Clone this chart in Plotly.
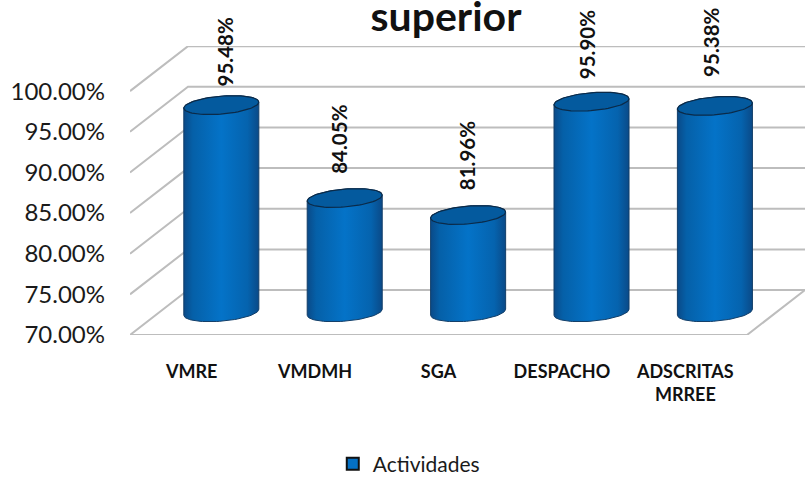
import numpy as np
import plotly.graph_objects as go

categories = ["VMRE", "VMDMH", "SGA", "DESPACHO", "ADSCRITAS<br>MRREE"]
values = [95.48, 84.05, 81.96, 95.90, 95.38]
series_name = "Actividades"
y_ticks = [70, 75, 80, 85, 90, 95, 100]

# 3D-look projection, in axis units
BASE = 70
DEPTH_X, DEPTH_Y = 0.47, 5.53
CYL_X, CYL_Y = 0.24, 2.8
RX, RY, TILT = 0.304, 1.1, 0.37
GRID = "#BDBDBD"
FONT = "Lato"
label_nudge_px = [(4, 1), (-6, 7), (-1, 7), (-5, 5), (-4, 12)]

fig = go.Figure()


def line(xs, ys, color=GRID, width=2):
    fig.add_trace(go.Scatter(x=xs, y=ys, mode="lines", showlegend=False, hoverinfo="skip",
                             line=dict(color=color, width=width)))


# back wall + left wall gridlines
x0, x1 = -0.5, 4.5
for t in y_ticks:
    if t == BASE:
        continue
    line([x0, x0 + DEPTH_X, x1 + DEPTH_X],
         [t, t + DEPTH_Y, t + DEPTH_Y])
# floor
line([x0 + DEPTH_X, x1 + DEPTH_X, x1, x0, x0 + DEPTH_X],
     [BASE + DEPTH_Y, BASE + DEPTH_Y, BASE, BASE, BASE + DEPTH_Y])


def ring(cx, cy, t):
    return cx + RX * np.cos(t), cy + RY * np.sin(t) + TILT * np.cos(t)


for i, v in enumerate(values):
    cx = i + CYL_X
    base = BASE + CYL_Y
    top = v + CYL_Y
    bx, by = ring(cx, base, np.linspace(np.pi, 2 * np.pi, 40))
    tx, ty = ring(cx, top, np.linspace(0, np.pi, 40))
    fig.add_trace(go.Scatter(
        x=np.r_[bx, tx, bx[0]], y=np.r_[by, ty, by[0]], mode="lines", fill="toself",
        line=dict(color="#123E68", width=1), showlegend=False, hoverinfo="skip",
        fillgradient=dict(type="horizontal", colorscale=[
            [0, "#0A4A88"], [0.12, "#0560A8"], [0.5, "#0473C8"],
            [0.85, "#0563AE"], [1, "#0A4A88"]])))
    ex, ey = ring(cx, top, np.linspace(0, 2 * np.pi, 80))
    fig.add_trace(go.Scatter(
        x=ex, y=ey, mode="lines", fill="toself", fillcolor="#045A9E",
        line=dict(color="#0B2A48", width=1.2), showlegend=False, hoverinfo="skip"))
    dx, dy = label_nudge_px[i]
    fig.add_annotation(x=cx, y=top + 1.9, xref="x", yref="y", text=f"<b>{v:.2f}%</b>",
                       textangle=-90, showarrow=False, yanchor="bottom", xanchor="center",
                       xshift=dx, yshift=dy, font=dict(family=FONT, size=20.5, color="#111"))

# legend entry
fig.add_trace(go.Scatter(x=[None], y=[None], mode="markers", name=series_name,
                         marker=dict(symbol="square", size=13, color="#0470C4",
                                     line=dict(color="#111", width=1.5))))

fig.update_layout(
    width=812, height=477, autosize=False,
    margin=dict(l=130, r=7, t=46, b=142, autoexpand=False),
    paper_bgcolor="white", plot_bgcolor="white",
    font=dict(family=FONT, color="#1a1a1a"),
    title=dict(text="<b>superior</b>", x=446 / 812, xanchor="center", xref="container",
               y=1 - 17 / 477, yanchor="middle", font=dict(family=FONT, size=41, color="#111")),
    showlegend=True,
    legend=dict(orientation="h", x=0.413, xanchor="center", y=-0.447, yanchor="middle",
                font=dict(family=FONT, size=21), bgcolor="rgba(0,0,0,0)",
                itemsizing="constant"),
    xaxis=dict(range=[-0.5, 4.97], tickvals=list(range(len(categories))), ticktext=[f"<b>{c}</b>" for c in categories],
               showgrid=False, zeroline=False, showline=False, ticks="", automargin=False,
               ticklabelstandoff=24, tickfont=dict(family=FONT, size=18, color="#111"), tickangle=0),
    yaxis=dict(range=[70, 105.55], tickvals=y_ticks, ticktext=[f"{t:.2f}%" for t in y_ticks],
               showgrid=False, zeroline=False, showline=False, ticks="", automargin=False,
               ticklabelstandoff=24, tickfont=dict(family=FONT, size=24, color="#1a1a1a")),
)

fig.write_html("out.html", config={"displayModeBar": False},
               post_script="document.body.style.margin='0';document.body.style.overflow='hidden';")
